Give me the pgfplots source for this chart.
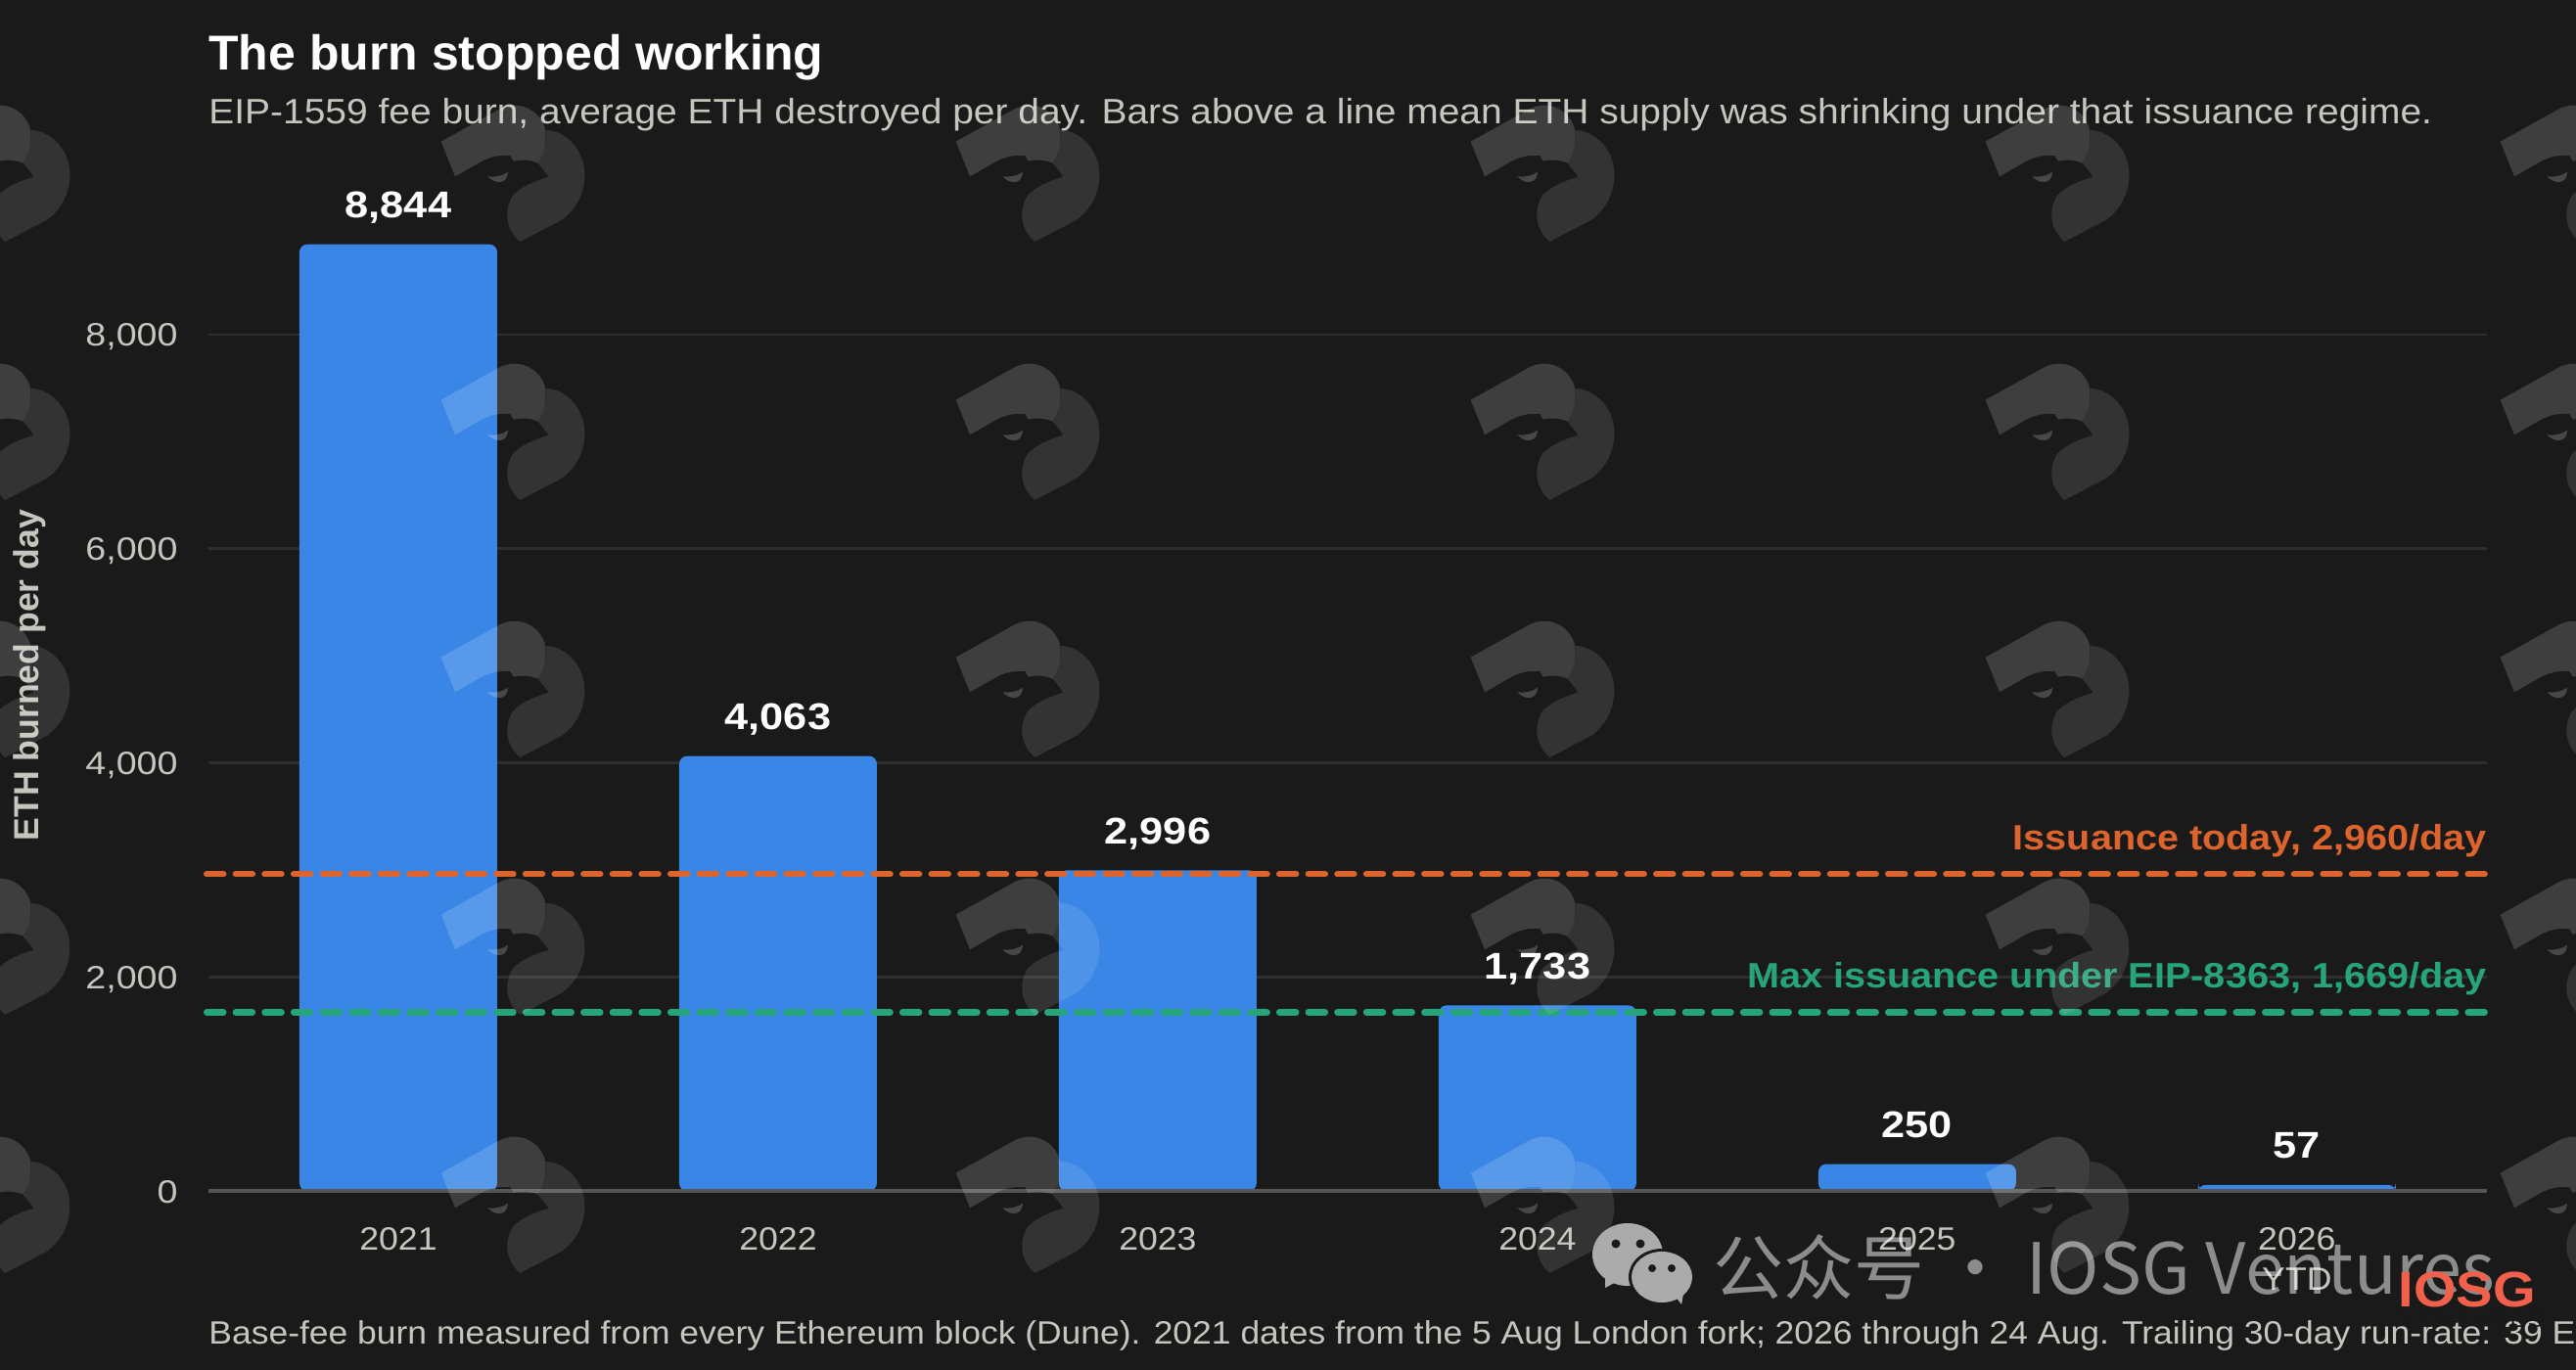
\documentclass[border=0pt]{standalone}
\usepackage{pgfplots}
\pgfplotsset{compat=1.18}
\usepackage{fontspec}
\setmainfont{Liberation Sans}
\newfontfamily\wide[FakeStretch=1.08]{Liberation Sans}
\newfontfamily\subf[FakeStretch=1.082]{Liberation Sans}
\newfontfamily\footf[FakeStretch=1.075]{Liberation Sans}
\newfontfamily\tickf[FakeStretch=1.14]{Liberation Sans}
\newfontfamily\wideb[FakeStretch=1.1]{Liberation Sans}
\newfontfamily\valf[FakeStretch=1.14]{Liberation Sans}
\newfontfamily\cjk{Noto Sans CJK SC}
\definecolor{bg}{HTML}{1A1A1A}
\definecolor{barblue}{HTML}{3A86E6}
\definecolor{muted}{HTML}{C6C6BE}
\definecolor{gridc}{HTML}{2E2E2E}
\definecolor{basec}{HTML}{555555}
\definecolor{orangec}{HTML}{DD642C}
\definecolor{greenc}{HTML}{27A57A}
\definecolor{logored}{HTML}{F0604A}
\begin{document}
\begin{tikzpicture}
\clip (0,0) rectangle (1316pt,-700pt);
\fill[bg] (0,0) rectangle (1316pt,-700pt);
\begin{axis}[
  at={(106.5pt,-608.5pt)}, anchor=south west,
  scale only axis, width=1164pt, height=492.2pt,
  xmin=-0.5, xmax=5.5, ymin=0, ymax=9000,
  clip=false,
  axis line style={draw=none},
  tick style={draw=none},
  major tick length=0pt,
  ymajorgrids,
  major grid style={gridc, line width=1.3pt},
  xtick={0,1,2,3,4,5},
  xticklabels={2021,2022,2023,2024,2025,{2026\\YTD}},
  ytick={0,2000,4000,6000,8000},
  /pgf/number format/1000 sep={,},
  /pgf/number format/assume math mode=true,
  xticklabel style={align=center, anchor=north, inner sep=0pt, yshift=-18.4pt, text=muted, font=\wide\fontsize{16.5}{20.5}\selectfont},
  yticklabel style={anchor=base east, inner sep=0pt, xshift=-15.5pt, yshift=-6pt, text=muted, font=\tickf\fontsize{16.5}{20}\selectfont},
  title={The burn stopped working},
  title style={at={(axis description cs:0,1.1517)}, anchor=base west, inner sep=0pt, text=white, font=\bfseries\fontsize{25}{30}\selectfont},
  ylabel={ETH burned per day},
  ylabel style={at={(axis description cs:-0.0786,0.5353)}, anchor=center, inner sep=0pt, text=muted, font=\bfseries\fontsize{17.8}{20}\selectfont},
  every node near coord/.append style={anchor=base, yshift=13.5pt, inner sep=0pt, text=white, font=\valf\bfseries\fontsize{19}{20}\selectfont},
]
\addplot[ybar, bar width=101pt, bar shift=0pt, fill=barblue, draw=none, rounded corners=4pt, nodes near coords]
  coordinates {(0,8844) (1,4063) (2,2996) (3,1733) (4,250) (5,57)};
\addplot[basec, line width=2pt] coordinates {(-0.5,0) (5.5,0)};
\addplot[orangec, line width=3.2pt, line cap=round, dash pattern=on 8.55pt off 6.26pt] coordinates {(-0.5046,2960) (5.4965,2960)};
\addplot[greenc, line width=3.2pt, line cap=round, dash pattern=on 8.55pt off 6.26pt] coordinates {(-0.5046,1669) (5.4965,1669)};
\node[anchor=base east, inner sep=0pt, yshift=12.5pt, text=orangec, font=\wideb\bfseries\fontsize{18}{20}\selectfont] at (axis cs:5.5,2960) {Issuance today, 2,960/day};
\node[anchor=base east, inner sep=0pt, yshift=12.5pt, text=greenc, font=\wideb\bfseries\fontsize{18}{20}\selectfont] at (axis cs:5.5,1669) {Max issuance under EIP-8363, 1,669/day};
\node[anchor=base west, inner sep=0pt, text=muted, font=\subf\fontsize{18}{20}\selectfont] at (rel axis cs:0,1.1073) {EIP-1559 fee burn, average ETH destroyed per day. Bars above a line mean ETH supply was shrinking under that issuance regime.};
\end{axis}
% footer
\node[anchor=base west, inner sep=0pt, text=muted, font=\footf\fontsize{16.5}{20}\selectfont] at (106.5pt,-686.5pt) {Base-fee burn measured from every Ethereum block (Dune). 2021 dates from the 5 Aug London fork; 2026 through 24 Aug. Trailing 30-day run-rate: 39 E};
% repeating logo watermark
\foreach \cx in {-92,434,960,1486,2012,2538}{
 \foreach \cy in {83,347,610,873,1137}{
  \begin{scope}[shift={(\cx*0.5pt,-\cy*0.5pt)}, x=0.16667pt, y=-0.16667pt]
   \fill[white, opacity=0.16] (50,185) -- (230,85) .. controls (290,55) and (350,90) .. (367,140) .. controls (378,180) and (365,225) .. (345,250) .. controls (320,240) and (295,240) .. (272,245) -- (262,228) .. controls (230,225) and (200,232) .. (175,245) -- (93,292) -- cycle;
   \fill[white, opacity=0.11] (370,150) .. controls (430,150) and (490,210) .. (490,285) .. controls (490,350) and (460,395) .. (420,425) -- (292,492) .. controls (250,455) and (240,400) .. (270,350) .. controls (300,320) and (340,305) .. (380,293) .. controls (360,265) and (345,250) .. (345,250) .. controls (365,225) and (378,180) .. (370,150) -- cycle;
   \fill[white, opacity=0.2] (193,292) .. controls (215,295) and (240,290) .. (255,278) .. controls (255,295) and (245,308) .. (232,309) .. controls (215,310) and (205,303) .. (193,292) -- cycle;
  \end{scope}
 }
}
% channel watermark
\begin{scope}[x=0.5pt,y=-0.5pt]
 \fill[black!33] (1663,1282) ellipse (36 and 32);
 \fill[black!33] (1640,1304) -- (1640,1316) -- (1655,1308) -- cycle;
 \fill[bg] (1698,1305) ellipse (34 and 29);
 \fill[black!33] (1698,1305) ellipse (31 and 26);
 \fill[black!33] (1712,1325) -- (1718,1333) -- (1720,1322) -- cycle;
 \fill[bg] (1651,1271) circle (4.5) (1676,1271) circle (4.5) (1688,1296) circle (4) (1708,1296) circle (4);
 \node[anchor=base west, inner sep=0pt, text=white, text opacity=0.5, font=\cjk\fontsize{36}{40}\selectfont] at (1750,1322) {公众号 · IOSG Ventures};
 \node[anchor=base west, inner sep=0pt, text=logored, font=\wideb\bfseries\fontsize{25.5}{30}\selectfont] at (2450,1335) {IOSG};
 \node[anchor=base west, inner sep=0pt, text=black!90, font=\fontsize{11}{12}\selectfont] at (2452,1356) {V\,E\,N\,T\,U\,R\,E\,S};
\end{scope}
\end{tikzpicture}
\end{document}
